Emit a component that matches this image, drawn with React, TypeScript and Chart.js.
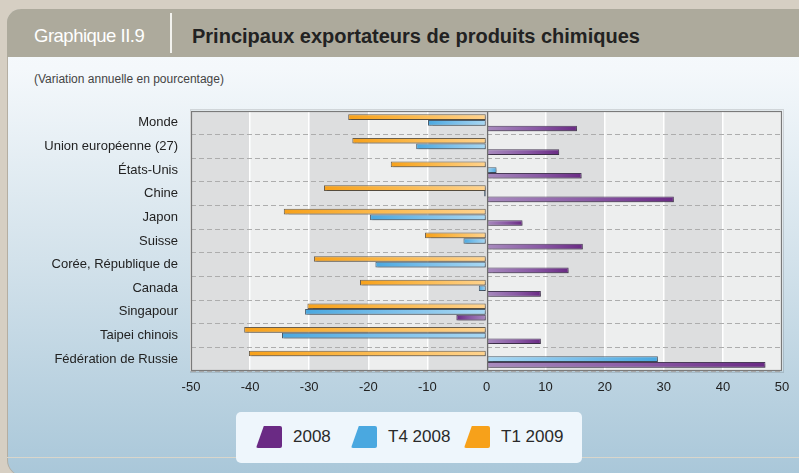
import React, { useEffect, useRef } from "react";
import { Chart, registerables } from "chart.js";

Chart.register(...registerables);

const categories = [
  "Monde",
  "Union européenne (27)",
  "États-Unis",
  "Chine",
  "Japon",
  "Suisse",
  "Corée, République de",
  "Canada",
  "Singapour",
  "Taipei chinois",
  "Fédération de Russie",
];
const values2008 = [15.3, 12.3, 16.1, 31.7, 6.1, 16.3, 13.9, 9.2, -5.1, 9.2, 47.2];
const valuesT4_2008 = [-9.9, -11.9, 1.7, -0.4, -19.7, -3.9, -18.8, -1.3, -30.7, -34.6, 29.0];
const valuesT1_2009 = [-23.4, -22.7, -16.2, -27.5, -34.3, -10.4, -29.2, -21.4, -30.3, -41.0, -40.2];
const xMin = -50;
const xMax = 50;
const xStep = 10;

const seriesNames = ["2008", "T4 2008", "T1 2009"];
const FULL = { "2008": "#6A2A84", "T4 2008": "#4AA8E0", "T1 2009": "#F7A11A" };
const MID = { "2008": "#8A5AA5", "T4 2008": "#78BEEA", "T1 2009": "#FBB84A" };
const LIGHT = { "2008": "#A88BBE", "T4 2008": "#A9D8F3", "T1 2009": "#FFD38E" };

const FONT = "'Liberation Sans', Arial, Helvetica, sans-serif";

function gradFor(name: string) {
  return (ctx: any) => {
    const chart = ctx.chart;
    const xs = chart.scales && chart.scales.x;
    if (!xs || ctx.type !== "data") return FULL[name];
    const v = ctx.raw as number;
    const p0 = xs.getPixelForValue(0);
    const p1 = xs.getPixelForValue(v);
    if (!isFinite(p0) || !isFinite(p1) || Math.abs(p1 - p0) < 1) return FULL[name];
    const g = chart.ctx.createLinearGradient(p0, 0, p1, 0);
    g.addColorStop(0, LIGHT[name]);
    g.addColorStop(0.55, MID[name]);
    g.addColorStop(1, FULL[name]);
    return g;
  };
}

const bandsPlugin = {
  id: "bands",
  beforeDraw(chart: any) {
    const { ctx, chartArea: a, scales } = chart;
    const xs = scales.x;
    ctx.save();
    let i = 0;
    for (let v = xMin; v < xMax; v += xStep, i++) {
      const l = xs.getPixelForValue(v);
      const r = xs.getPixelForValue(v + xStep);
      ctx.fillStyle = i % 2 === 0 ? "#DDDEDF" : "#EDEEEE";
      ctx.fillRect(l, a.top, r - l, a.bottom - a.top);
    }
    ctx.restore();
  },
  beforeDatasetsDraw(chart: any) {
    const ctx = chart.ctx;
    ctx.save();
    ctx.shadowColor = "rgba(0,0,0,0.2)";
    ctx.shadowOffsetX = 2;
    ctx.shadowOffsetY = 2;
    ctx.shadowBlur = 1;
  },
  afterDatasetsDraw(chart: any) {
    const { ctx, chartArea: a, scales } = chart;
    ctx.restore();
    ctx.save();
    const x0 = Math.round(scales.x.getPixelForValue(0)) + 0.5;
    ctx.strokeStyle = "#6E6E6E";
    ctx.lineWidth = 1.5;
    ctx.beginPath();
    ctx.moveTo(x0, a.top);
    ctx.lineTo(x0, a.bottom);
    ctx.stroke();
    ctx.strokeStyle = "rgba(0,0,0,0.12)";
    ctx.lineWidth = 1;
    ctx.strokeRect(Math.round(a.left) - 0.5, Math.round(a.top) - 1.5, a.right - a.left + 2, a.bottom - a.top + 3);
    ctx.strokeStyle = "#7A7A7A";
    ctx.lineWidth = 1.2;
    ctx.strokeRect(Math.round(a.left) + 0.5, Math.round(a.top) + 0.5, a.right - a.left - 1, a.bottom - a.top - 1);
    ctx.restore();
  },
};

function LegendIcon({ color }: { color: string }) {
  return (
    <div
      style={{
        width: 26,
        height: 22,
        background: color,
        clipPath: "polygon(30% 0, 100% 0, 100% 100%, 0 100%)",
        borderRadius: 2,
      }}
    />
  );
}

export default function App() {
  const ref = useRef<HTMLCanvasElement>(null);

  useEffect(() => {
    if (!ref.current) return;
    const chart = new Chart(ref.current, {
      type: "bar",
      data: {
        labels: categories,
        datasets: [
          {
            label: "T1 2009",
            data: valuesT1_2009,
            backgroundColor: gradFor("T1 2009"),
            borderColor: "#6A5E4C",
            borderWidth: 1,
            borderSkipped: false,
          },
          {
            label: "T4 2008",
            data: valuesT4_2008,
            backgroundColor: gradFor("T4 2008"),
            borderColor: "#4A5C6C",
            borderWidth: 1,
            borderSkipped: false,
          },
          {
            label: "2008",
            data: values2008,
            backgroundColor: gradFor("2008"),
            borderColor: "#4A3A58",
            borderWidth: 1,
            borderSkipped: false,
          },
        ],
      },
      options: {
        indexAxis: "y",
        responsive: false,
        maintainAspectRatio: false,
        animation: false,
        devicePixelRatio: 1,
        categoryPercentage: 0.72,
        barPercentage: 1.0,
        layout: { padding: { left: 0, top: 111, right: 17, bottom: 72 } },
        plugins: {
          legend: { display: false },
          tooltip: { enabled: false },
          title: { display: false },
        },
        scales: {
          x: {
            type: "linear",
            min: xMin,
            max: xMax,
            ticks: {
              stepSize: xStep,
              padding: 9,
              color: "#222",
              font: { family: FONT, size: 13 },
            },
            grid: {
              color: "#FFFFFF",
              lineWidth: 1.5,
              drawTicks: false,
            },
            border: { display: false },
            afterFit(scale: any) {
              scale.height = 30;
            },
          },
          y: {
            type: "category",
            ticks: {
              padding: 13,
              color: "#222",
              font: { family: FONT, size: 13 },
            },
            grid: {
              color: "#ADADAD",
              lineWidth: 1,
              drawTicks: false,
              offset: true,
            },
            border: { display: false, dash: [5, 3] },
            afterFit(scale: any) {
              scale.width = 191;
            },
          },
        },
      },
      plugins: [bandsPlugin],
    });
    return () => chart.destroy();
  }, []);

  return (
    <div
      style={{
        position: "absolute",
        left: 0,
        top: 0,
        width: 799,
        height: 473,
        overflow: "hidden",
        background: "#D6CFC3",
        fontFamily: FONT,
      }}
    >
      <div
        style={{
          position: "absolute",
          left: 7,
          top: 9,
          width: 800,
          height: 467,
          borderRadius: "14px 0 0 16px",
          overflow: "hidden",
          background: "linear-gradient(to bottom, #F8FBFD 0px, #F4F8FB 60px, #D3E2EB 250px, #A9C7D9 467px)",
          boxShadow: "inset 1px 0 0 #B4AEA2",
        }}
      >
        <div
          style={{
            position: "absolute",
            left: 0,
            top: 0,
            width: 800,
            height: 48,
            background: "#ADAA9C",
          }}
        />
        <div
          style={{
            position: "absolute",
            left: 163,
            top: 4,
            width: 1.5,
            height: 40,
            background: "#F2F2EE",
          }}
        />
        <div
          style={{
            position: "absolute",
            left: 27,
            top: 16,
            fontSize: 18.5,
            letterSpacing: -0.5,
            color: "#FFFFFF",
            whiteSpace: "nowrap",
            lineHeight: "22px",
          }}
        >
          Graphique II.9
        </div>
        <div
          style={{
            position: "absolute",
            left: 185,
            top: 15,
            fontSize: 20,
            fontWeight: "bold",
            color: "#222222",
            whiteSpace: "nowrap",
            lineHeight: "24px",
          }}
        >
          Principaux exportateurs de produits chimiques
        </div>
        <div
          style={{
            position: "absolute",
            left: 27,
            top: 63,
            fontSize: 12,
            color: "#444444",
            whiteSpace: "nowrap",
            lineHeight: "15px",
          }}
        >
          (Variation annuelle en pourcentage)
        </div>
        <div
          style={{
            position: "absolute",
            left: 0,
            top: 448,
            width: 800,
            height: 1,
            background: "#D9D6CB",
          }}
        />
      </div>
      <div
        style={{
          position: "absolute",
          left: 236,
          top: 412,
          width: 346,
          height: 51,
          borderRadius: 5,
          background: "#EEF6FC",
          display: "flex",
          alignItems: "center",
        }}
      >
        {seriesNames.map((n, i) => (
          <div
            key={n}
            style={{
              position: "absolute",
              left: [20, 115, 228][i],
              top: 14,
              display: "flex",
              alignItems: "center",
            }}
          >
            <LegendIcon color={FULL[n]} />
            <span
              style={{
                marginLeft: 11,
                fontSize: 17,
                color: "#2A2A2A",
                lineHeight: "22px",
                whiteSpace: "nowrap",
              }}
            >
              {n}
            </span>
          </div>
        ))}
      </div>
      <canvas
        ref={ref}
        width={799}
        height={473}
        style={{ position: "absolute", left: 0, top: 0, width: 799, height: 473 }}
      />
    </div>
  );
}
